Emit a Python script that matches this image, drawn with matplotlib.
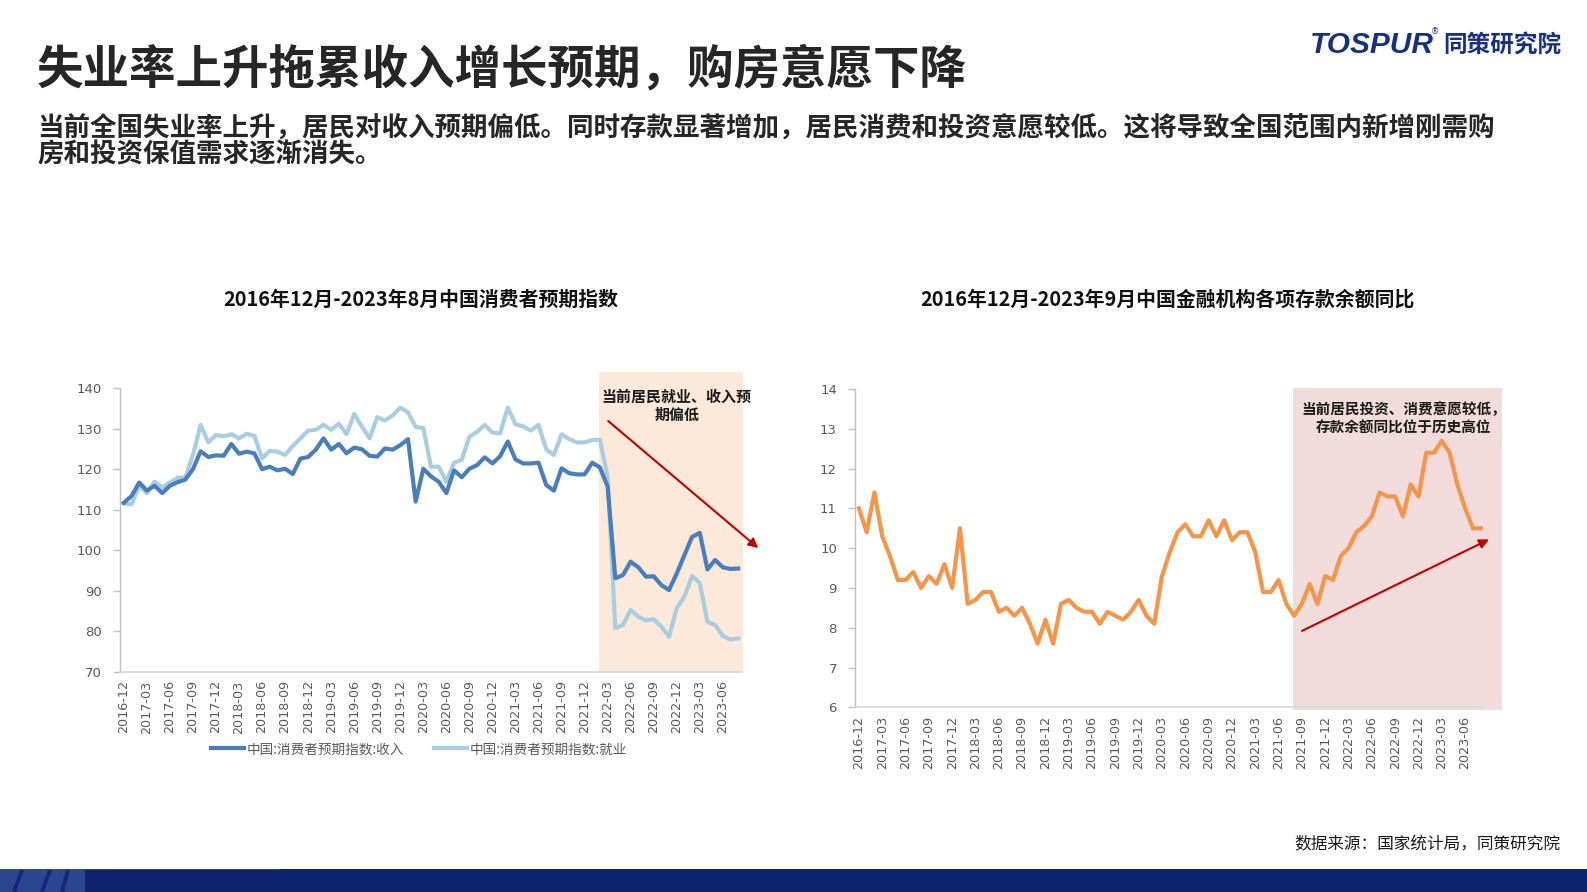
import numpy as np
import pandas as pd
import matplotlib
matplotlib.use('Agg')
import matplotlib.pyplot as plt
from matplotlib.patches import Rectangle, Polygon
from matplotlib.lines import Line2D

plt.rcParams['font.family'] = ['Noto Sans CJK SC', 'DejaVu Sans']

# ---------------- data ----------------
months = [p.strftime('%Y-%m') for p in pd.period_range('2016-12', '2023-08', freq='M')]

income = [111.7, 113.4, 116.7, 114.7, 115.9, 114.1, 115.9, 116.8, 117.4, 120.0,
          124.4, 123.0, 123.4, 123.3, 126.2, 123.8, 124.3, 123.9, 120.0, 120.6,
          119.7, 120.1, 118.8, 122.6, 123.0, 124.8, 127.6, 124.8, 126.2, 123.9,
          125.3, 124.9, 123.3, 123.1, 125.1, 124.8, 125.9, 127.4, 112.0, 120.1,
          118.2, 116.9, 114.1, 119.7, 118.0, 120.1, 121.0, 122.9, 121.4, 123.2,
          126.8, 122.4, 121.4, 121.4, 121.6, 116.1, 114.7, 120.2, 119.0, 118.7,
          118.7, 121.6, 120.4, 115.7, 93.1, 93.9, 97.2, 95.8, 93.5, 93.6,
          91.4, 90.2, 94.3, 98.8, 103.3, 104.3, 95.3, 97.6, 95.8, 95.4,
          95.5]

employment = [111.6, 111.3, 115.9, 114.1, 116.9, 115.5, 116.7, 117.9, 117.9, 123.5,
              130.9, 126.6, 128.4, 128.1, 128.6, 127.6, 128.7, 128.2, 122.7, 124.5,
              124.3, 123.5, 125.7, 127.6, 129.5, 129.7, 130.9, 129.7, 131.2, 128.6,
              133.6, 130.5, 127.6, 132.8, 132.0, 133.2, 135.2, 134.0, 130.4, 130.1,
              120.6, 120.6, 116.9, 121.6, 122.3, 128.0, 129.2, 130.9, 129.0, 128.8,
              135.2, 131.1, 130.5, 129.5, 130.9, 124.9, 123.5, 128.6, 127.4, 126.6,
              126.6, 127.2, 127.2, 118.1, 80.8, 81.6, 85.3, 83.6, 82.7, 83.0,
              81.2, 78.7, 85.7, 88.6, 93.7, 91.9, 82.4, 81.6, 78.9, 78.0,
              78.3]

deposits = [11.0, 10.4, 11.4, 10.3, 9.8, 9.2, 9.2, 9.4, 9.0, 9.3,
            9.1, 9.6, 9.0, 10.5, 8.6, 8.7, 8.9, 8.9, 8.4, 8.5,
            8.3, 8.5, 8.1, 7.6, 8.2, 7.6, 8.6, 8.7, 8.5, 8.4,
            8.4, 8.1, 8.4, 8.3, 8.2, 8.4, 8.7, 8.3, 8.1, 9.3,
            9.9, 10.4, 10.6, 10.3, 10.3, 10.7, 10.3, 10.7, 10.2, 10.4,
            10.4, 9.9, 8.9, 8.9, 9.2, 8.6, 8.3, 8.6, 9.1, 8.6,
            9.3, 9.2, 9.8, 10.0, 10.4, 10.55, 10.8, 11.4, 11.3, 11.3,
            10.8, 11.6, 11.3, 12.4, 12.4, 12.7, 12.4, 11.6, 11.0, 10.5,
            10.5]

tick_idx = list(range(0, len(months), 3))
tick_labels = [months[i] for i in tick_idx]

C_INCOME = '#4A7EBB'
C_EMPLOY = '#A9CDE0'
C_DEPOSIT = '#F5954A'
C_TICK = '#595959'
C_ARROW = '#C00000'

W, H = 1587, 892
fig = plt.figure(figsize=(W / 100, H / 100), dpi=100)
fig.patch.set_facecolor('white')


def fx(px):
    return px / W


def fy(py):
    return 1 - py / H


def style_axes(ax):
    for s in ['top', 'right']:
        ax.spines[s].set_visible(False)
    ax.spines['left'].set_color('#BFBFBF')
    ax.spines['left'].set_linewidth(1.0)
    ax.spines['bottom'].set_color('#D9D9D9')
    ax.spines['bottom'].set_linewidth(1.3)
    ax.tick_params(axis='y', direction='out', length=5, width=1, color='#BFBFBF',
                   labelsize=9.5, labelcolor=C_TICK, pad=8)
    ax.tick_params(axis='x', length=0, labelsize=9.2, labelcolor=C_TICK, pad=6)
    ax.set_xticks(tick_idx)
    ax.set_xticklabels(tick_labels, rotation=90, family=['DejaVu Sans'])
    for lab in ax.get_yticklabels():
        lab.set_family(['DejaVu Sans'])
    ax.set_xlim(-0.5, len(months) - 0.5)
    ax.patch.set_alpha(0)


x = np.arange(len(months))

# ---------------- left chart ----------------
axL = fig.add_axes([fx(120), fy(672), fx(742 - 120), (672 - 388) / H])
axL.add_patch(Rectangle((61.9, 70), 80.6 - 61.9, 144 - 70, facecolor='#FDE9D9',
                        edgecolor='none', zorder=0.5, clip_on=False))
axL.plot(x, employment, color=C_EMPLOY, lw=3.0, zorder=3, solid_joinstyle='round')
axL.plot(x, income, color=C_INCOME, lw=3.0, zorder=4, solid_joinstyle='round')
axL.set_ylim(70, 140)
axL.set_yticks(range(70, 141, 10))
style_axes(axL)
axL.annotate('', xy=(82.9, 100.1), xytext=(62.8, 132.3),
             arrowprops=dict(arrowstyle='-|>', color=C_ARROW, lw=1.5, mutation_scale=14),
             annotation_clip=False, zorder=6)
axL.text(72.0, 135.7, '当前居民就业、收入预\n期偏低', ha='center', va='center',
         fontsize=10.8, fontweight='bold', color='#1a1a1a', linespacing=1.15, zorder=7)

# ---------------- right chart ----------------
axR = fig.add_axes([fx(855), fy(707.3), fx(1484.5 - 855), (707.3 - 389) / H])
axR.add_patch(Rectangle((55.9, 5.92), 82.8 - 55.9, 14.03 - 5.92, facecolor='#F2DCDB',
                        edgecolor='none', zorder=0.5, clip_on=False))
axR.plot(x, deposits, color=C_DEPOSIT, lw=3.0, zorder=4, solid_joinstyle='round')
axR.set_ylim(6, 14)
axR.set_yticks(range(6, 15))
style_axes(axR)
axR.annotate('', xy=(81.4, 10.25), xytext=(56.7, 7.89),
             arrowprops=dict(arrowstyle='-|>', color=C_ARROW, lw=1.5, mutation_scale=14),
             annotation_clip=False, zorder=6)
axR.text(70.1, 13.26, '当前居民投资、消费意愿较低，\n存款余额同比位于历史高位', ha='center',
         va='center', fontsize=10.5, fontweight='bold', color='#1a1a1a',
         linespacing=1.15, zorder=7)

# ---------------- legend (left) ----------------
handles = [Line2D([], [], color=C_INCOME, lw=3.0), Line2D([], [], color=C_EMPLOY, lw=3.0)]
fig.legend(handles, ['中国:消费者预期指数:收入', '中国:消费者预期指数:就业'],
           loc='center', bbox_to_anchor=(fx(419), fy(749)), ncol=2, frameon=False,
           fontsize=9.8, labelcolor=C_TICK, handlelength=2.4, handletextpad=0.2,
           columnspacing=2.2)

# ---------------- titles & texts ----------------
fig.text(fx(421), fy(299), '2016年12月-2023年8月中国消费者预期指数', ha='center', va='center',
         fontsize=14.3, fontweight='bold', color='#111111')
fig.text(fx(1167), fy(299), '2016年12月-2023年9月中国金融机构各项存款余额同比', ha='center',
         va='center', fontsize=14.3, fontweight='bold', color='#111111')

fig.text(fx(37), fy(70), '失业率上升拖累收入增长预期，购房意愿下降', ha='left', va='center',
         fontsize=33.5, fontweight='bold', color='#262626')
fig.text(fx(37), fy(129), '当前全国失业率上升，居民对收入预期偏低。同时存款显著增加，居民消费和投资意愿较低。这将导致全国范围内新增刚需购',
         ha='left', va='center', fontsize=19.1, fontweight='bold', color='#262626')
fig.text(fx(37), fy(155), '房和投资保值需求逐渐消失。', ha='left', va='center',
         fontsize=19.1, fontweight='bold', color='#262626')

fig.text(fx(1560), fy(845), '数据来源：国家统计局，同策研究院', ha='right', va='center',
         fontsize=12, color='#1a1a1a')

# logo
NAVY = '#17307F'
fig.text(fx(1310), fy(45), 'TOSPUR', ha='left', va='center', fontsize=21.5,
         fontweight='bold', fontstyle='italic', family=['Liberation Sans'], color=NAVY)
fig.text(fx(1435), fy(32), '®', ha='center', va='center', fontsize=6, color=NAVY,
         family=['DejaVu Sans'])
fig.text(fx(1443), fy(45), '同策研究院', ha='left', va='center', fontsize=17,
         fontweight='bold', color=NAVY)

# bottom bar
fig.patches.append(Rectangle((0, 0), 1, 23 / H, transform=fig.transFigure,
                             facecolor='#0F2270', edgecolor='none', zorder=1))
fig.patches.append(Rectangle((0, 22 / H), fx(280), 1.5 / H, transform=fig.transFigure,
                             facecolor='#2B4A97', edgecolor='none', zorder=2))
fig.patches.append(Rectangle((0, 0), fx(85), 22 / H, transform=fig.transFigure,
                             facecolor='#2C4590', edgecolor='none', zorder=2))
for x0, x1 in [(12, 20), (40, 48), (60, 66)]:
    fig.patches.append(Polygon([(fx(x0), 0), (fx(x0 + 4), 0), (fx(x1 + 4), 22 / H), (fx(x1), 22 / H)],
                               closed=True, transform=fig.transFigure,
                               facecolor='#14277A', edgecolor='none', zorder=3))

fig.savefig('out.png', dpi=100, facecolor='white')
